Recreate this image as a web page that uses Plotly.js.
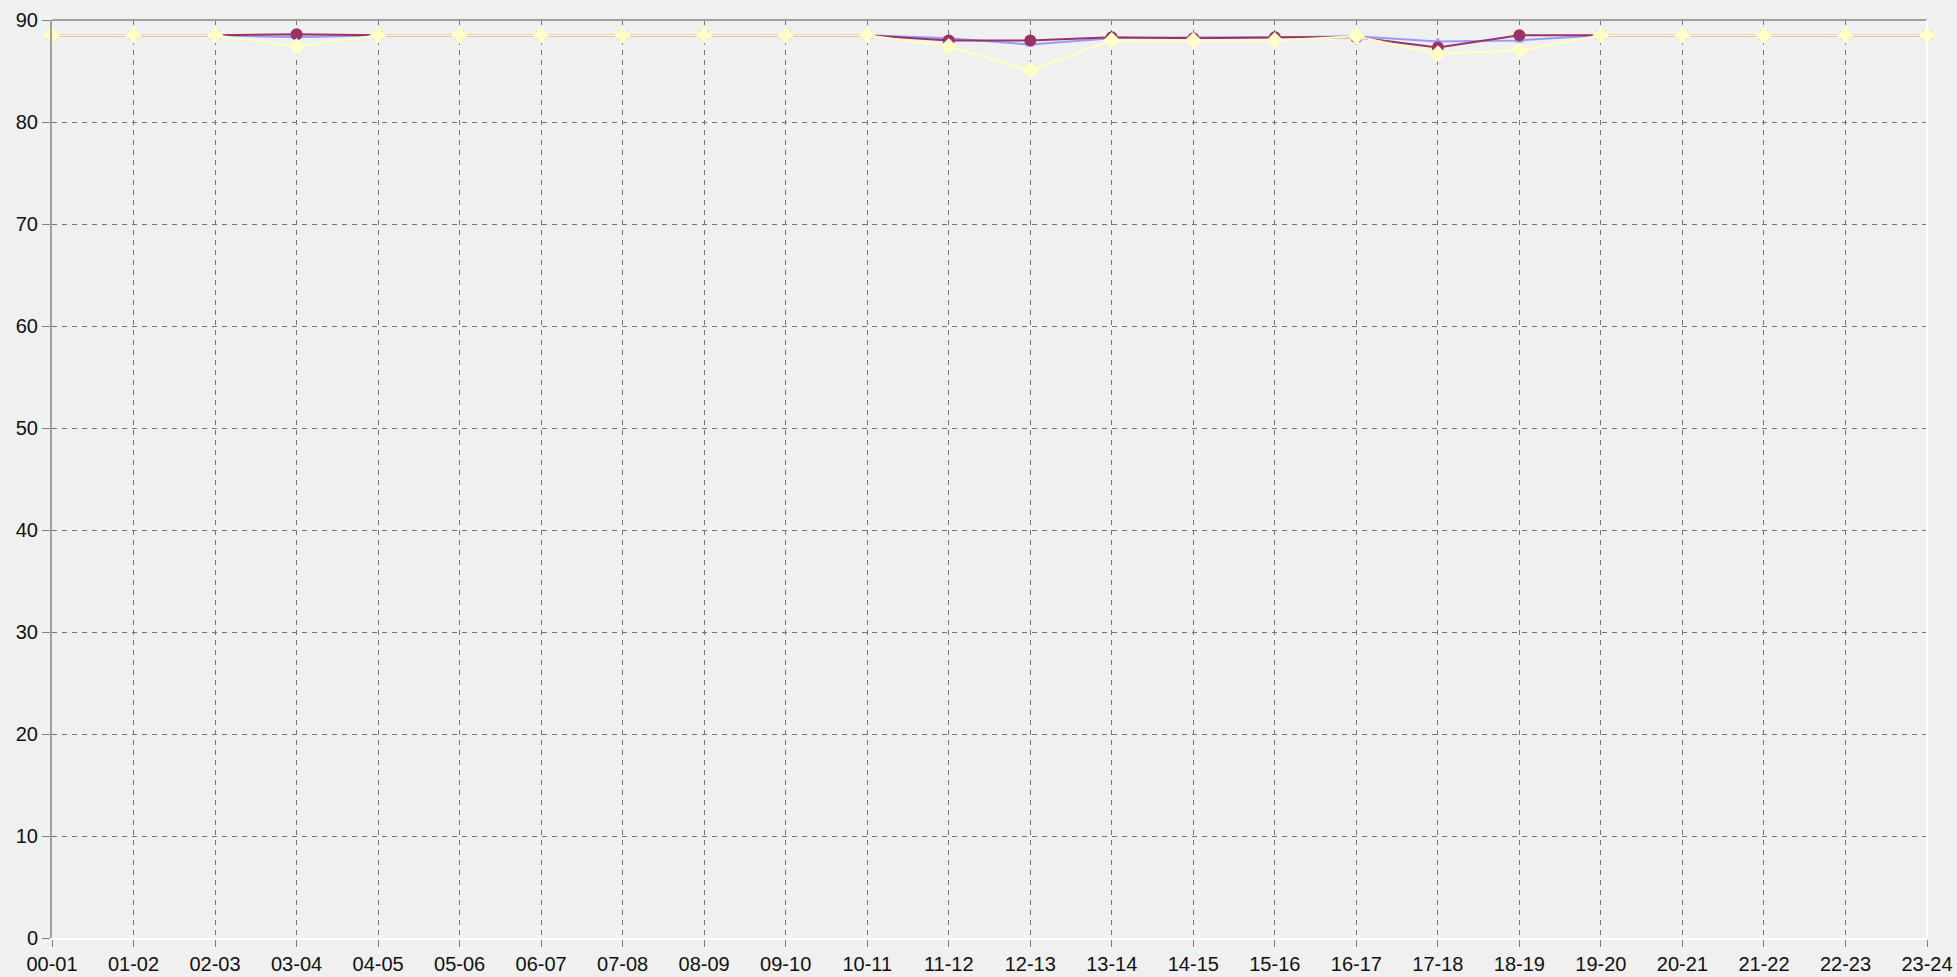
<!DOCTYPE html>
<html>
<head>
<meta charset="utf-8">
<script src="https://cdn.plot.ly/plotly-3.0.1.min.js"></script>
<style>
html,body{margin:0;padding:0;background:#f0f0f0;}
#chart{width:1957px;height:977px;}
</style>
</head>
<body>
<div id="chart"></div>
<script>
const categories = ['00-01','01-02','02-03','03-04','04-05','05-06','06-07','07-08','08-09','09-10','10-11','11-12',
                    '12-13','13-14','14-15','15-16','16-17','17-18','18-19','19-20','20-21','21-22','22-23','23-24'];
const blueSeries   = [88.5,88.5,88.5,88.3,88.5,88.5,88.5,88.5,88.5,88.5,88.5,88.2,87.6,88.2,88.3,88.3,88.4,87.9,88.0,88.5,88.5,88.5,88.5,88.5];
const maroonSeries = [88.5,88.5,88.5,88.6,88.5,88.5,88.5,88.5,88.5,88.5,88.5,88.0,88.0,88.3,88.2,88.3,88.3,87.3,88.5,88.5,88.5,88.5,88.5,88.5];
const yellowSeries = [88.5,88.5,88.5,87.4,88.5,88.5,88.5,88.5,88.5,88.5,88.5,87.4,85.1,88.0,88.0,88.0,88.4,86.7,87.0,88.5,88.5,88.5,88.5,88.5];
const yTicks = [0,10,20,30,40,50,60,70,80,90];

const traces = [
  {x: categories, y: blueSeries, type:'scatter', mode:'lines+markers', cliponaxis:false,
   line:{color:'#9999ff', width:2}, marker:{symbol:'triangle-up', size:8, color:'#9999ff', line:{width:0}}},
  {x: categories, y: maroonSeries, type:'scatter', mode:'lines+markers', cliponaxis:false,
   line:{color:'#993366', width:2}, marker:{symbol:'circle', size:12, color:'#993366', line:{width:0}}},
  {x: categories, y: yellowSeries, type:'scatter', mode:'lines+markers', cliponaxis:false,
   line:{color:'#ffffc0', width:2}, marker:{symbol:'diamond', size:13, color:'#ffffc8', line:{width:0}}}
];

const layout = {
  width:1957, height:977,
  paper_bgcolor:'#f0f0f0', plot_bgcolor:'#f0f0f0',
  margin:{l:52, r:30, t:20, b:39},
  showlegend:false,
  font:{family:'Arial, "Liberation Sans", sans-serif', size:20, color:'#111'},
  xaxis:{
    type:'category', range:[0, categories.length-1],
    showgrid:true, gridcolor:'#747474', gridwidth:1, griddash:'5px,5px',
    showline:true, linecolor:'#ffffff', linewidth:2,
    ticks:'outside', ticklen:7, tickcolor:'#808080', tickwidth:1,
    tickfont:{size:20, color:'#111'}, zeroline:false, fixedrange:true
  },
  yaxis:{
    range:[0,90], tickvals:yTicks, ticktext:yTicks.map(String),
    showgrid:true, gridcolor:'#747474', gridwidth:1, griddash:'5px,5px',
    showline:true, linecolor:'#a0a0a0', linewidth:2,
    ticks:'outside', ticklen:8, tickcolor:'#808080', tickwidth:1,
    tickfont:{size:20, color:'#111'}, zeroline:false, fixedrange:true
  },
  shapes:[
    {type:'line', xref:'paper', yref:'paper', x0:0, x1:1, y0:1, y1:1, line:{color:'#a0a0a0', width:2}},
    {type:'line', xref:'paper', yref:'paper', x0:1, x1:1, y0:0, y1:1, line:{color:'#ffffff', width:2}}
  ]
};

Plotly.newPlot('chart', traces, layout, {displayModeBar:false, staticPlot:true});
</script>
</body>
</html>
